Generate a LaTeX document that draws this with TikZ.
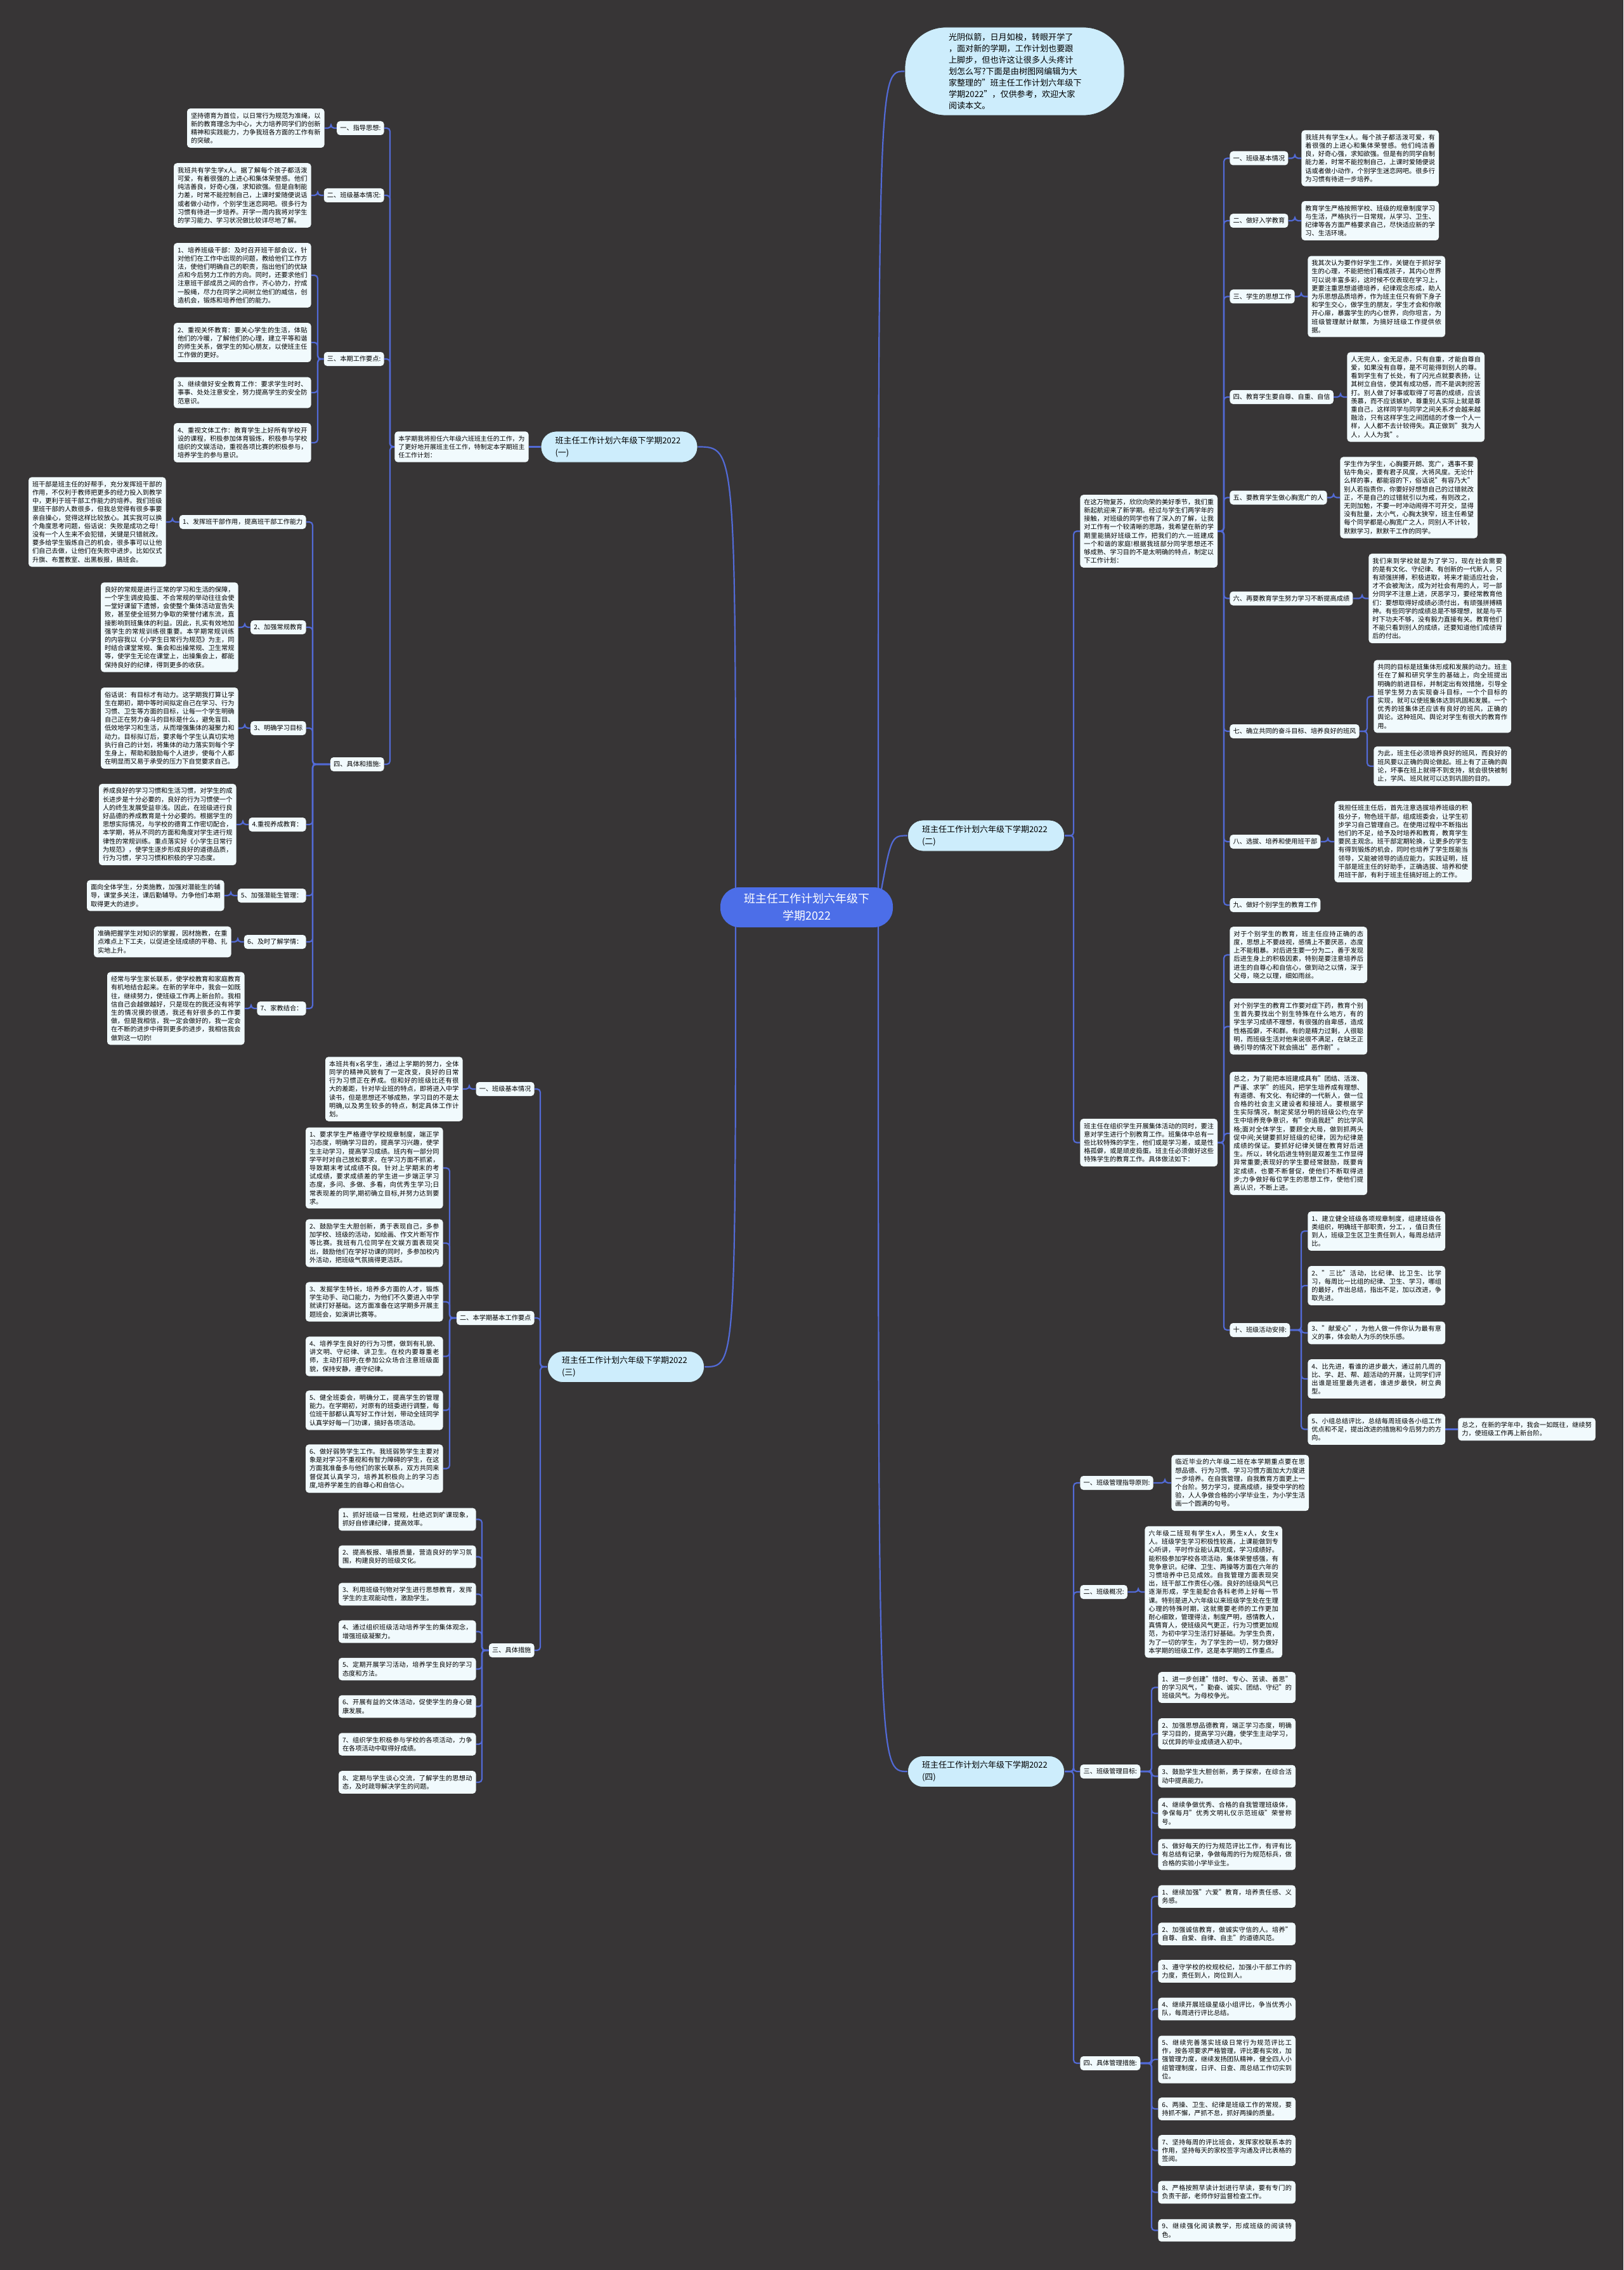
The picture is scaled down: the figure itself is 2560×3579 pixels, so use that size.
\documentclass[tikz,border=0pt]{standalone}
\usepackage{fontspec}
\setmainfont{Noto Sans CJK SC}
\XeTeXlinebreaklocale "zh"
\XeTeXlinebreakskip=0pt plus 1pt
\setlength{\parindent}{0pt}
\definecolor{bgcol}{RGB}{55,53,54}
\definecolor{linecol}{RGB}{82,106,214}
\definecolor{leaffill}{RGB}{241,250,253}
\definecolor{branchfill}{RGB}{205,237,252}
\definecolor{centerfill}{RGB}{76,110,232}
\newcommand\leaffont{\fontsize{5.1pt}{6.6pt}\selectfont}
\pgfdeclarelayer{bg}
\pgfdeclarelayer{lines}
\pgfsetlayers{bg,lines,main}
\tikzset{
 leaf/.style={fill=leaffill, rounded corners=2.5pt, inner xsep=3pt, inner ysep=3.2pt, text width=102.3pt, align=justify, font=\leaffont},
 desc/.style={leaf, text width=99.6pt, font=\fontsize{4.95pt}{6.6pt}\selectfont},
 sub/.style={fill=leaffill, rounded corners=2.5pt, inner xsep=2.6pt, inner ysep=0pt, minimum height=11pt, font=\leaffont},
 branch/.style={fill=branchfill, draw=black!80, line width=0.4pt, rounded corners=12pt, inner xsep=11.25pt, inner ysep=0pt, minimum height=24.5pt, text width=101pt, align=left, font=\fontsize{6.5pt}{9.5pt}\selectfont},
 intro/.style={fill=branchfill, draw=black!80, line width=0.4pt, rounded corners=32pt, inner xsep=34.5pt, inner ysep=0pt, minimum height=69.5pt, text width=104pt, align=left, font=\fontsize{6.55pt}{9pt}\selectfont},
 central/.style={fill=centerfill, rounded corners=15pt, minimum width=136pt, minimum height=31.5pt, align=center, text=white, font=\fontsize{9pt}{13.5pt}\selectfont},
 conn/.style={draw=linecol, line width=1.1pt, rounded corners=2.5pt},
 curve/.style={draw=linecol, line width=1.1pt}
}
\begin{document}
\begin{tikzpicture}[x=0.5pt,y=-0.5pt]
\begin{pgfonlayer}{bg}
\fill[bgcol] (0,0) rectangle (2560,3579);
\end{pgfonlayer}
\useasboundingbox (0,0) rectangle (2560,3579);

% ---------- centre, intro ----------
\node[central] (C) at (1272,1430.5) {班主任工作计划六年级下\\学期2022};
\node[intro] (I0) at (1600,112.5) {\mbox{光阴似箭，日月如梭，转眼开学了}\\\mbox{，面对新的学期，工作计划也要跟}\\\mbox{上脚步，但也许这让很多人头疼计}\\\mbox{划怎么写?下面是由树图网编辑为大}\\\mbox{家整理的"班主任工作计划六年级下}\\\mbox{学期2022"，仅供参考，欢迎大家}\\\mbox{阅读本文。}};

% ---------- branch (一) ----------
\node[branch] (B1) at (976.5,704.5) {班主任工作计划六年级下学期2022\\(一)};
\node[desc, anchor=east] (D1) at (834,704.5) {本学期我将担任六年级六班班主任的工作，为了更好地开展班主任工作，特制定本学期班主任工作计划：};
\node[sub, anchor=east] (S1a) at (606,202) {一、指导思想:};
\node[sub, anchor=east] (S1b) at (606,308) {二、班级基本情况:};
\node[sub, anchor=east] (S1c) at (606,566) {三、本期工作要点:};
\node[sub, anchor=east] (S1d) at (606,1205) {四、具体和措施:};
\node[leaf, anchor=east] (L1a) at (512,202) {坚持德育为首位，以日常行为规范为准绳，以新的教育理念为中心，大力培养同学们的创新精神和实践能力，力争我班各方面的工作有新的突破。};
\node[leaf, anchor=east] (L1b) at (491,308) {我班共有学生学x人。据了解每个孩子都活泼可爱，有着很强的上进心和集体荣誉感。他们纯洁善良，好奇心强，求知欲强。但是自制能力差，时常不能控制自己，上课时爱随便说话或者做小动作，个别学生迷恋网吧。很多行为习惯有待进一步培养。开学一周内我将对学生的学习能力、学习状况做比较详尽地了解。};
\node[leaf, anchor=east] (L1c1) at (491,434) {1、培养班级干部：及时召开班干部会议，针对他们在工作中出现的问题，教给他们工作方法，使他们明确自己的职责，指出他们的优缺点和今后努力工作的方向。同时，还要求他们注意班干部成员之间的合作，齐心协力，拧成一股绳，尽力在同学之间树立他们的威信，创造机会，锻炼和培养他们的能力。};
\node[leaf, anchor=east] (L1c2) at (491,540) {2、重视关怀教育：要关心学生的生活，体贴他们的冷暖，了解他们的心理，建立平等和谐的师生关系，做学生的知心朋友，以使班主任工作做的更好。};
\node[leaf, anchor=east] (L1c3) at (491,619) {3、继续做好安全教育工作：要求学生时时、事事、处处注意安全，努力提高学生的安全防范意识。};
\node[leaf, anchor=east] (L1c4) at (491,698) {4、重视文体工作：教育学生上好所有学校开设的课程，积极参加体育锻炼，积极参与学校组织的文娱活动，重视各项比赛的积极参与，培养学生的参与意识。};
\node[sub, anchor=east] (S1d1) at (483,823) {1、发挥班干部作用，提高班干部工作能力};
\node[sub, anchor=east] (S1d2) at (483,989) {2、加强常规教育};
\node[sub, anchor=east] (S1d3) at (483,1148) {3、明确学习目标};
\node[sub, anchor=east] (S1d4) at (483,1300) {4.重视养成教育：};
\node[sub, anchor=east] (S1d5) at (483,1412) {5、加强潜能生管理：};
\node[sub, anchor=east] (S1d6) at (483,1485) {6、及时了解学情：};
\node[sub, anchor=east] (S1d7) at (483,1590) {7、家教结合：};
\node[leaf, anchor=east] (L1d1) at (262,823) {班干部是班主任的好帮手，充分发挥班干部的作用，不仅利于教师把更多的经力投入到教学中，更利于班干部工作能力的培养。我们班级里班干部的人数很多，但我总觉得有很多事要亲自操心，觉得这样比较放心。其实我可以换个角度思考问题，俗话说：失败是成功之母！没有一个人生来不会犯错，关键是只错就改。要多给学生锻炼自己的机会，很多事可以让他们自己去做，让他们在失败中进步。比如仪式升旗、布置教室、出黑板报，搞班会。};
\node[leaf, anchor=east] (L1d2) at (376,989) {良好的常规是进行正常的学习和生活的保障，一个学生调皮捣蛋、不合常规的举动往往会使一堂好课留下遗憾，会使整个集体活动宣告失败，甚至使全班努力争取的荣誉付诸东流，直接影响到班集体的利益。因此，扎实有效地加强学生的常规训练很重要。本学期常规训练的内容我以《小学生日常行为规范》为主，同时结合课堂常规、集会和出操常规、卫生常规等，使学生无论在课堂上，出操集会上，都能保持良好的纪律，得到更多的收获。};
\node[leaf, anchor=east] (L1d3) at (376,1148) {俗话说：有目标才有动力。这学期我打算让学生在期初，期中等时间拟定自己在学习、行为习惯、卫生等方面的目标，让每一个学生明确自己正在努力奋斗的目标是什么，避免盲目、低效地学习和生活，从而增强集体的凝聚力和动力。目标拟订后，要求每个学生认真切实地执行自己的计划，将集体的动力落实到每个学生身上，帮助和鼓励每个人进步，使每个人都在明显而又易于承受的压力下自觉要求自己。};
\node[leaf, anchor=east] (L1d4) at (373,1300) {养成良好的学习习惯和生活习惯，对学生的成长进步是十分必要的，良好的行为习惯使一个人的终生发展受益非浅。因此，在班级进行良好品德的养成教育是十分必要的。根据学生的思想实际情况，与学校的德育工作密切配合，本学期，将从不同的方面和角度对学生进行规律性的常规训练。重点落实好《小学生日常行为规范》，使学生逐步形成良好的道德品质，行为习惯，学习习惯和积极的学习态度。};
\node[leaf, anchor=east] (L1d5) at (354,1412) {面向全体学生，分类施教，加强对潜能生的辅导，课堂多关注，课后勤辅导。力争他们本期取得更大的进步。};
\node[leaf, anchor=east] (L1d6) at (365,1485) {准确把握学生对知识的掌握，因材施教，在重点难点上下工夫，以促进全班成绩的平稳、扎实地上升。};
\node[leaf, anchor=east] (L1d7) at (386,1590) {经常与学生家长联系，使学校教育和家庭教育有机地结合起来。在新的学年中，我会一如既往，继续努力，使班级工作再上新台阶。我相信自己会越做越好，只是现在的我还没有将学生的情况摸的很透，我还有好很多的工作要做，但是我相信，我一定会做好的，我一定会在不断的进步中得到更多的进步，我相信我会做到这一切的!};

% ---------- branch (三) ----------
\node[branch] (B3) at (987,2155) {班主任工作计划六年级下学期2022\\(三)};
\node[sub, anchor=east] (S3a) at (843,1717) {一、班级基本情况};
\node[sub, anchor=east] (S3b) at (843,2078) {二、本学期基本工作要点};
\node[sub, anchor=east] (S3c) at (843,2602) {三、具体措施};
\node[leaf, anchor=east] (L3a) at (730,1717) {本班共有x名学生，通过上学期的努力，全体同学的精神风貌有了一定改变，良好的日常行为习惯正在养成。但和好的班级比还有很大的差距，针对毕业班的特点，即将进入中学读书，但是思想还不够成熟，学习目的不是太明确,以及男生较多的特点，制定具体工作计划。};
\node[leaf, anchor=east] (L3b1) at (699,1841.5) {1、要求学生严格遵守学校规章制度，端正学习态度，明确学习目的，提高学习兴趣，使学生主动学习，提高学习成绩。班内有一部分同学平时对自己放松要求，在学习方面不抓紧，导致期末考试成绩不良。针对上学期末的考试成绩，要求成绩差的学生进一步端正学习态度，多问、多做、多看，向优秀生学习;日常表现差的同学,期初确立目标,并努力达到要求。};
\node[leaf, anchor=east] (L3b2) at (699,1960) {2、鼓励学生大胆创新，勇于表现自己，多参加学校、班级的活动，如绘画、作文片断写作等比赛。我班有几位同学在文娱方面表现突出，鼓励他们在学好功课的同时，多参加校内外活动，把班级气氛搞得更活跃。};
\node[leaf, anchor=east] (L3b3) at (699,2052.5) {3、发掘学生特长，培养多方面的人才，锻炼学生动手、动口能力，为他们不久要进入中学就读打好基础。这方面准备在这学期多开展主题班会，如演讲比赛等。};
\node[leaf, anchor=east] (L3b4) at (699,2138.5) {4、培养学生良好的行为习惯，做到有礼貌、讲文明、守纪律、讲卫生。在校内要尊重老师，主动打招呼;在参加公众场合注意班级面貌，保持安静，遵守纪律。};
\node[leaf, anchor=east] (L3b5) at (699,2223.5) {5、健全班委会，明确分工，提高学生的管理能力。在学期初，对原有的班委进行调整，每位班干部都认真写好工作计划，带动全班同学认真学好每一门功课，搞好各项活动。};
\node[leaf, anchor=east] (L3b6) at (699,2315.5) {6、做好弱势学生工作。我班弱势学生主要对象是对学习不重视和有智力障碍的学生，在这方面我准备多与他们的家长联系，双方共同来督促其认真学习，培养其积极向上的学习态度,培养学差生的自尊心和自信心。};
\node[leaf, anchor=east] (L3c1) at (751,2395.5) {1、抓好班级一日常规，杜绝迟到旷课现象，抓好自修课纪律，提高效率。};
\node[leaf, anchor=east] (L3c2) at (751,2454.5) {2、提高板报、墙报质量，营造良好的学习氛围，构建良好的班级文化。};
\node[leaf, anchor=east] (L3c3) at (751,2513.5) {3、利用班级刊物对学生进行思想教育，发挥学生的主观能动性，激励学生。};
\node[leaf, anchor=east] (L3c4) at (751,2572.5) {4、通过组织班级活动培养学生的集体观念，增强班级凝聚力。};
\node[leaf, anchor=east] (L3c5) at (751,2631.5) {5、定期开展学习活动，培养学生良好的学习态度和方法。};
\node[leaf, anchor=east] (L3c6) at (751,2690.5) {6、开展有益的文体活动，促使学生的身心健康发展。};
\node[leaf, anchor=east] (L3c7) at (751,2750) {7、组织学生积极参与学校的各项活动，力争在各项活动中取得好成绩。};
\node[leaf, anchor=east] (L3c8) at (751,2810) {8、定期与学生谈心交流，了解学生的思想动态，及时疏导解决学生的问题。};

% ---------- branch (二) ----------
\node[branch] (B2) at (1555,1317.5) {班主任工作计划六年级下学期2022\\(二)};
\node[leaf, anchor=west] (D2a) at (1703,837.5) {在这万物复苏，欣欣向荣的美好季节，我们重新起航迎来了新学期。经过与学生们两学年的接触，对班级的同学也有了深入的了解，让我对工作有一个较清晰的思路，我希望在新的学期里能搞好班级工作，把我们的六.一班建成一个和谐的家庭!根据我班部分同学思想还不够成熟、学习目的不是太明确的特点，制定以下工作计划：};
\node[leaf, anchor=west] (D2b) at (1703,1801.5) {班主任在组织学生开展集体活动的同时，要注意对学生进行个别教育工作。班集体中总有一些比较特殊的学生，他们或是学习差，或是性格孤僻，或是顽皮捣蛋。班主任必须做好这些特殊学生的教育工作。具体做法如下：};
\node[sub, anchor=west] (S2a1) at (1939,249.5) {一、班级基本情况};
\node[sub, anchor=west] (S2a2) at (1939,348) {二、做好入学教育};
\node[sub, anchor=west] (S2a3) at (1939,467.5) {三、学生的思想工作};
\node[sub, anchor=west] (S2a4) at (1939,626) {四、教育学生要自尊、自重、自信};
\node[sub, anchor=west] (S2a5) at (1939,784.5) {五、要教育学生做心胸宽广的人};
\node[sub, anchor=west] (S2a6) at (1939,943.5) {六、再要教育学生努力学习不断提高成绩};
\node[sub, anchor=west] (S2a7) at (1939,1153) {七、确立共同的奋斗目标、培养良好的班风};
\node[sub, anchor=west] (S2a8) at (1939,1327) {八、选拔、培养和使用班干部};
\node[sub, anchor=west] (S2a9) at (1939,1427) {九、做好个别学生的教育工作};
\node[leaf, anchor=west] (L2a1) at (2052,249.5) {我班共有学生x人。每个孩子都活泼可爱，有着很强的上进心和集体荣誉感。他们纯洁善良，好奇心强，求知欲强。但是有的同学自制能力差，时常不能控制自己，上课时爱随便说话或者做小动作，个别学生迷恋网吧。很多行为习惯有待进一步培养。};
\node[leaf, anchor=west] (L2a2) at (2052,348) {教育学生严格按照学校、班级的规章制度学习与生活，严格执行一日常规，从学习、卫生、纪律等各方面严格要求自己，尽快适应新的学习、生活环境。};
\node[leaf, anchor=west] (L2a3) at (2062,467.5) {我其次认为要作好学生工作，关键在于抓好学生的心理，不能把他们看成孩子，其内心世界可以说丰富多彩，这时候不仅表现在学习上，更要注重思想道德培养，纪律观念形成，助人为乐思想品质培养，作为班主任只有俯下身子和学生交心，做学生的朋友，学生才会和你敞开心扉，暴露学生的内心世界，向你坦言，为班级管理献计献策，为搞好班级工作提供依据。};
\node[leaf, anchor=west] (L2a4) at (2124,626) {人无完人，金无足赤，只有自重，才能自尊自爱，如果没有自尊，是不可能得到别人的尊。看到学生有了长处，有了闪光点就要表扬，让其树立自信，使其有成功感，而不是讽刺挖苦打。别人做了好事或取得了可喜的成绩，应该羡慕，而不应该嫉妒，尊重别人实际上就是尊重自己，这样同学与同学之间关系才会越来越融洽，只有这样学生之间团结的才像一个人一样，人人都不去计较得失。真正做到"我为人人，人人为我"。};
\node[leaf, anchor=west] (L2a5) at (2113,784.5) {学生作为学生，心胸要开朗、宽广，遇事不要钻牛角尖，要有君子风度，大将风度。无论什么样的事，都能容的下，俗话说"有容乃大"别人若指责你，你要好好想想自己的过错就改正，不是自己的过错就引以为戒，有则改之，无则加勉，不要一时冲动闹得不可开交，显得没有肚量，太小气，心胸太狭窄，班主任希望每个同学都是心胸宽广之人，同别人不计较，默默学习，默默干工作的同学。};
\node[leaf, anchor=west] (L2a6) at (2158,943.5) {我们来到学校就是为了学习，现在社会需要的是有文化、守纪律、有创新的一代新人，只有顽强拼搏，积极进取，将来才能适应社会，才不会被淘汰，成为对社会有用的人，可一部分同学不注意上进，厌恶学习，要经常教育他们：要想取得好成绩必须付出，有顽强拼搏精神。有些同学的成绩总是不够理想，就是与平时下功夫不够，没有毅力直接有关。教育他们不能只看到别人的成绩，还要知道他们成绩背后的付出。};
\node[leaf, anchor=west] (L2a7a) at (2166,1098) {共同的目标是班集体形成和发展的动力。班主任在了解和研究学生的基础上，向全班提出明确的前进目标，并制定出有效措施，引导全班学生努力去实现奋斗目标，一个个目标的实现，就可以使班集体达到巩固和发展。一个优秀的班集体还应该有良好的班风，正确的舆论。这种班风、舆论对学生有很大的教育作用。};
\node[leaf, anchor=west] (L2a7b) at (2166,1208) {为此，班主任必须培养良好的班风，而良好的班风要以正确的舆论做起。班上有了正确的舆论，坏事在班上就得不到支持，就会很快被制止，学风、班风就可以达到巩固的目的。};
\node[leaf, anchor=west] (L2a8) at (2104,1327) {我担任班主任后，首先注意选拔培养班级的积极分子，物色班干部，组成班委会，让学生初步学习自己管理自己。在使用过程中不断指出他们的不足，给予及时培养和教育，教育学生要民主观念。班干部定期轮换，让更多的学生有得到锻炼的机会，同时也培养了学生既能当领导，又能被领导的适应能力。实践证明，班干部是班主任的好助手，正确选拔、培养和使用班干部，有利于班主任搞好班上的工作。};
\node[leaf, anchor=west] (L2b1) at (1939,1505.5) {对于个别学生的教育，班主任应持正确的态度，思想上不要歧视，感情上不要厌恶，态度上不能粗暴。对后进生要一分为二，善于发现后进生身上的积极因素，特别是要注意培养后进生的自尊心和自信心，做到动之以情，深于父母，晓之以理，细如雨丝。};
\node[leaf, anchor=west] (L2b2) at (1939,1618.5) {对个别学生的教育工作要对症下药，教育个别生首先要找出个别生特殊在什么地方，有的学生学习成绩不理想，有很强的自卑感，造成性格孤僻，不和群。有的是精力过剩，人很聪明，而班级生活对他来说很不满足，在缺乏正确引导的情况下就会搞出"恶作剧"。};
\node[leaf, anchor=west] (L2b3) at (1939,1787) {总之，为了能把本班建成具有"团结、活泼、严谨、求学"的班风，把学生培养成有理想、有道德、有文化、有纪律的一代新人，做一位合格的社会主义建设者和接班人。要根据学生实际情况，制定奖惩分明的班级公约;在学生中培养竞争意识，有"你追我赶"的比学风格;面对全体学生，要顾全大局，做到抓两头促中间;关键要抓好班级的纪律，因为纪律是成绩的保证。要抓好纪律关键在教育好后进生。所以，转化后进生特别是双差生工作显得异常重要;表现好的学生要经常鼓励，既要肯定成绩，也要不断督促，使他们不断取得进步;力争做好每位学生的思想工作，使他们提高认识，不断上进。};
\node[sub, anchor=west] (S2b4) at (1939,2097) {十、班级活动安排:};
\node[leaf, anchor=west] (L2c1) at (2062,1941) {1、建立健全班级各项规章制度，组建班级各类组织，明确班干部职责，分工，，值日责任到人，班级卫生区卫生责任到人，每周总结评比。};
\node[leaf, anchor=west] (L2c2) at (2062,2027) {2、"三比"活动，比纪律、比卫生、比学习，每周比一比组的纪律、卫生、学习，哪组的最好，作出总结，指出不足，加以改进，争取先进。};
\node[leaf, anchor=west] (L2c3) at (2062,2101.5) {3、"献爱心"，为他人做一件你认为最有意义的事，体会助人为乐的快乐感。};
\node[leaf, anchor=west] (L2c4) at (2062,2174) {4、比先进，看谁的进步最大，通过前几周的比、学、赶、帮、超活动的开展，让同学们评出谁是班里最先进者，谁进步最快，树立典型。};
\node[leaf, anchor=west] (L2c5) at (2062,2253.5) {5、小组总结评比，总结每周班级各小组工作优点和不足，提出改进的措施和今后努力的方向。};
\node[leaf, anchor=west] (L2c5x) at (2299,2253.5) {总之，在新的学年中，我会一如既往，继续努力，使班级工作再上新台阶。};

% ---------- branch (四) ----------
\node[branch] (B4) at (1555,2793) {班主任工作计划六年级下学期2022\\(四)};
\node[sub, anchor=west] (S4a) at (1703,2338) {一、班级管理指导原则:};
\node[sub, anchor=west] (S4b) at (1703,2510) {二、班级概况:};
\node[sub, anchor=west] (S4c) at (1703,2793) {三、班级管理目标:};
\node[sub, anchor=west] (S4d) at (1703,3253) {四、具体管理措施:};
\node[leaf, anchor=west] (L4a) at (1847,2338) {临近毕业的六年级二班在本学期重点要在思想品德、行为习惯、学习习惯方面加大力度进一步培养。在自我管理，自我教育方面更上一个台阶。努力学习，提高成绩，接受中学的检验，人人争做合格的小学毕业生，为小学生活画一个圆满的句号。};
\node[leaf, anchor=west] (L4b) at (1805,2510) {六年级二班现有学生x人，男生x人，女生x人。班级学生学习积极性较高，上课能做到专心听讲，平时作业能认真完成，学习成绩好。能积极参加学校各项活动，集体荣誉感强，有竞争意识。纪律、卫生、两操等方面在六年的习惯培养中已见成效。自我管理方面表现突出，班干部工作责任心强。良好的班级风气已逐渐形成，学生能配合各科老师上好每一节课。特别是进入六年级以来班级学生处在生理心理的特殊时期，这就需要老师的工作更加耐心细致，管理得法，制度严明，感情教人，真情育人，使班级风气更正，行为习惯更加规范，为初中学习生活打好基础。为学生负责，为了一切的学生，为了学生的一切，努力做好本学期的班级工作，这是本学期的工作重点。};
\node[leaf, anchor=west] (L4c1) at (1826,2660.5) {1、进一步创建"惜时、专心、苦读、善思"的学习风气，"勤奋、诚实、团结、守纪"的班级风气。为母校争光。};
\node[leaf, anchor=west] (L4c2) at (1826,2733.5) {2、加强思想品德教育，端正学习态度，明确学习目的，提高学习兴趣，使学生主动学习，以优异的毕业成绩进入初中。};
\node[leaf, anchor=west] (L4c3) at (1826,2800.5) {3、鼓励学生大胆创新，勇于探索，在综合活动中提高能力。};
\node[leaf, anchor=west] (L4c4) at (1826,2859) {4、继续争做优秀、合格的自我管理班级体，争保每月"优秀文明礼仪示范班级"荣誉称号。};
\node[leaf, anchor=west] (L4c5) at (1826,2924) {5、做好每天的行为规范评比工作，有评有比有总结有记录，争做每周的行为规范标兵，做合格的实验小学毕业生。};
\node[leaf, anchor=west] (L4d1) at (1826,2990) {1、继续加强"六爱"教育，培养责任感、义务感。};
\node[leaf, anchor=west] (L4d2) at (1826,3049) {2、加强诚信教育，做诚实守信的人。培养"自尊、自爱、自律、自主"的道德风范。};
\node[leaf, anchor=west] (L4d3) at (1826,3108) {3、遵守学校的校规校纪，加强小干部工作的力度，责任到人，岗位到人。};
\node[leaf, anchor=west] (L4d4) at (1826,3167.5) {4、继续开展班级星级小组评比，争当优秀小队，每周进行评比总结。};
\node[leaf, anchor=west] (L4d5) at (1826,3247) {5、继续完善落实班级日常行为规范评比工作，按各项要求严格管理，评比要有实效，加强管理力度，继续发扬团队精神，健全四人小组管理制度，日评、日查、周总结工作切实到位。};
\node[leaf, anchor=west] (L4d6) at (1826,3325) {6、两操、卫生、纪律是班级工作的常规，要持抓不懈，严抓不怠，抓好两操的质量。};
\node[leaf, anchor=west] (L4d7) at (1826,3390.5) {7、坚持每周的评比班会，发挥家校联系本的作用，坚持每天的家校签字沟通及评比表格的签阅。};
\node[leaf, anchor=west] (L4d8) at (1826,3456.5) {8、严格按照早读计划进行早读，要有专门的负责干部，老师作好监督检查工作。};
\node[leaf, anchor=west] (L4d9) at (1826,3516.5) {9、继续强化阅读教学，形成班级的阅读特色。};

% ---------- connectors ----------
\begin{pgfonlayer}{lines}
% centre to branches
\draw[curve] (1385,1430) .. controls (1385,112) and (1385,112) .. (I0.west);
\draw[curve] (1385,1430) .. controls (1405,1317.5) .. (B2.west);
\draw[curve] (1385,1430) .. controls (1385,2793) and (1385,2793) .. (B4.west);
\draw[curve] (1160,1430) .. controls (1160,704.5) and (1160,704.5) .. (B1.east);
\draw[curve] (1160,1430) .. controls (1160,2155) and (1160,2155) .. (B3.east);
% left side: child east -> bus -> parent west
\draw[conn] (B1.west) -- (D1.east);
\foreach \c in {S1a,S1b,S1c,S1d} \draw[conn] (\c.east) -- ++(9,0) |- (D1.west);
\draw[conn] (L1a.east) -- ++(10,0) |- (S1a.west);
\draw[conn] (L1b.east) -- ++(10,0) |- (S1b.west);
\foreach \c in {L1c1,L1c2,L1c3,L1c4} \draw[conn] (\c.east) -- ++(10,0) |- (S1c.west);
\foreach \c in {S1d1,S1d2,S1d3,S1d4,S1d5,S1d6,S1d7} \draw[conn] (\c.east) -- ++(10,0) |- (S1d.west);
\draw[conn] (L1d1.east) -- ++(10,0) |- (S1d1.west);
\draw[conn] (L1d2.east) -- ++(10,0) |- (S1d2.west);
\draw[conn] (L1d3.east) -- ++(10,0) |- (S1d3.west);
\draw[conn] (L1d4.east) -- ++(10,0) |- (S1d4.west);
\draw[conn] (L1d5.east) -- ++(10,0) |- (S1d5.west);
\draw[conn] (L1d6.east) -- ++(10,0) |- (S1d6.west);
\draw[conn] (L1d7.east) -- ++(10,0) |- (S1d7.west);
\foreach \c in {S3a,S3b,S3c} \draw[conn] (\c.east) -- ++(9,0) |- (B3.west);
\draw[conn] (L3a.east) -- ++(10,0) |- (S3a.west);
\foreach \c in {L3b1,L3b2,L3b3,L3b4,L3b5,L3b6} \draw[conn] (\c.east) -- ++(10,0) |- (S3b.west);
\foreach \c in {L3c1,L3c2,L3c3,L3c4,L3c5,L3c6,L3c7,L3c8} \draw[conn] (\c.east) -- ++(9,0) |- (S3c.west);
% right side: child west -> bus -> parent east
\foreach \c in {D2a,D2b} \draw[conn] (\c.west) -- ++(-10,0) |- (B2.east);
\foreach \c in {S2a1,S2a2,S2a3,S2a4,S2a5,S2a6,S2a7,S2a8,S2a9} \draw[conn] (\c.west) -- ++(-9,0) |- (D2a.east);
\draw[conn] (L2a1.west) -- ++(-10,0) |- (S2a1.east);
\draw[conn] (L2a2.west) -- ++(-10,0) |- (S2a2.east);
\draw[conn] (L2a3.west) -- ++(-10,0) |- (S2a3.east);
\draw[conn] (L2a4.west) -- ++(-10,0) |- (S2a4.east);
\draw[conn] (L2a5.west) -- ++(-10,0) |- (S2a5.east);
\draw[conn] (L2a6.west) -- ++(-10,0) |- (S2a6.east);
\draw[conn] (L2a7a.west) -- ++(-10,0) |- (S2a7.east);
\draw[conn] (L2a7b.west) -- ++(-10,0) |- (S2a7.east);
\draw[conn] (L2a8.west) -- ++(-10,0) |- (S2a8.east);
\foreach \c in {L2b1,L2b2,L2b3,S2b4} \draw[conn] (\c.west) -- ++(-9,0) |- (D2b.east);
\foreach \c in {L2c1,L2c2,L2c3,L2c4,L2c5} \draw[conn] (\c.west) -- ++(-10,0) |- (S2b4.east);
\draw[conn] (L2c5x.west) -- (L2c5.east);
\foreach \c in {S4a,S4b,S4c,S4d} \draw[conn] (\c.west) -- ++(-10,0) |- (B4.east);
\draw[conn] (L4a.west) -- ++(-10,0) |- (S4a.east);
\draw[conn] (L4b.west) -- ++(-10,0) |- (S4b.east);
\foreach \c in {L4c1,L4c2,L4c3,L4c4,L4c5} \draw[conn] (\c.west) -- ++(-10,0) |- (S4c.east);
\foreach \c in {L4d1,L4d2,L4d3,L4d4,L4d5,L4d6,L4d7,L4d8,L4d9} \draw[conn] (\c.west) -- ++(-10,0) |- (S4d.east);
\end{pgfonlayer}
\end{tikzpicture}
\end{document}
